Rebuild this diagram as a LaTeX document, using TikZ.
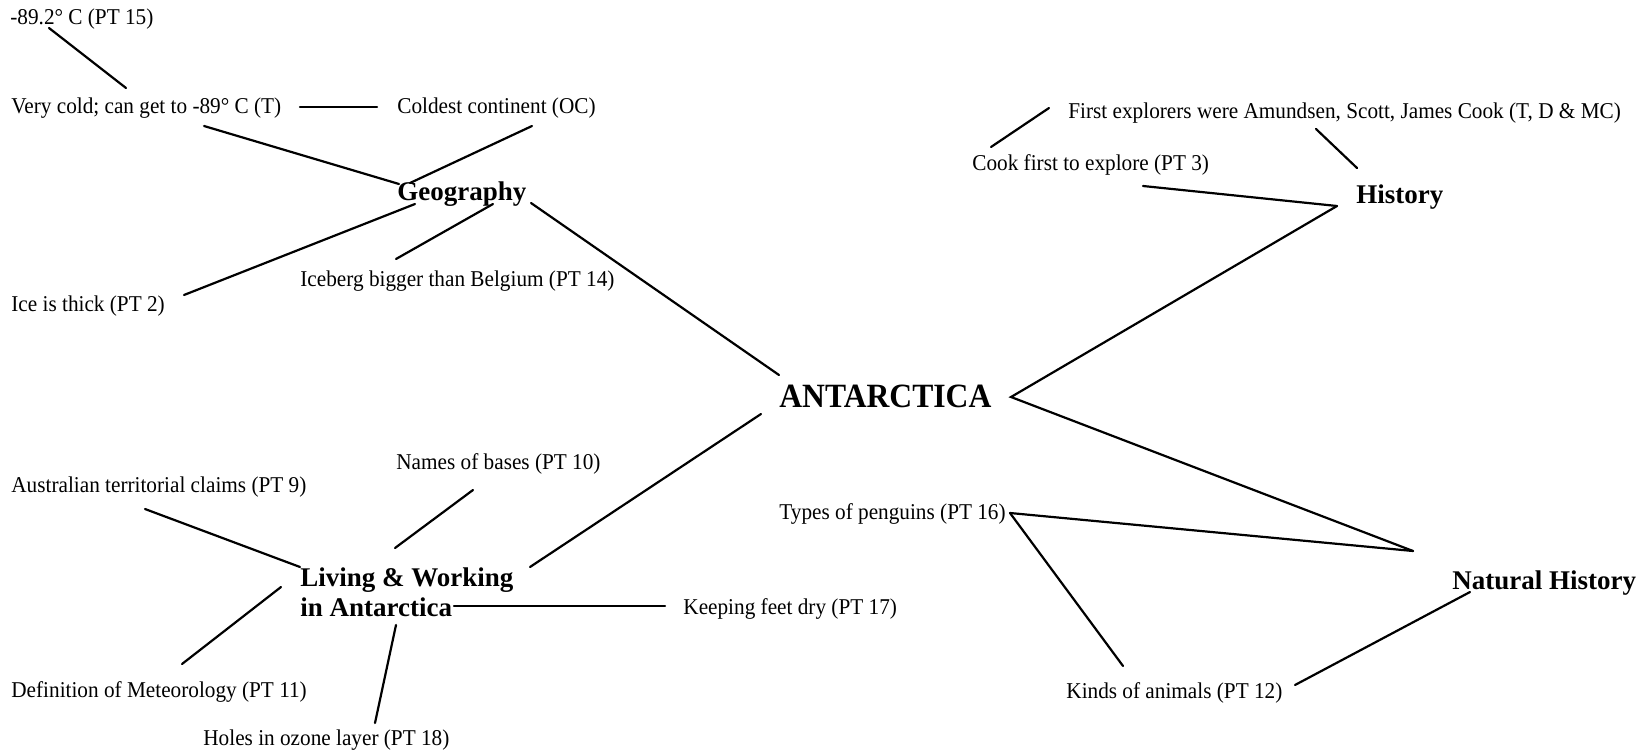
\documentclass[tikz,border=0pt]{standalone}
\usepackage{fontspec}
\setmainfont{Liberation Serif}
\newfontfamily\notefont{Liberation Serif}[FakeStretch=0.94]
\newfontfamily\titlefont{Liberation Serif}[FakeStretch=0.93]
\begin{document}
\begin{tikzpicture}[x=0.5pt,y=-0.5pt,
  note/.style={anchor=base west,inner sep=0pt,font=\notefont\fontsize{11.3}{13}\selectfont},
  topic/.style={anchor=base west,inner sep=0pt,font=\bfseries\fontsize{13.5}{15}\selectfont,align=left},
  hubtitle/.style={anchor=base west,inner sep=0pt,font=\titlefont\bfseries\fontsize{17}{19}\selectfont},
  link/.style={line width=1.1pt,line cap=round}]
\fill[white] (0,0) rectangle (1647,754);
\useasboundingbox (0,0) rectangle (1647,754);

% centre
\node[hubtitle] (ant) at (779,407) {ANTARCTICA};

% main topics (a two-line node sits on the baseline of its last line)
\node[topic] (geo) at (397,200) {Geography};
\node[topic] (hist) at (1356,204) {History};
\node[topic] (nat) at (1452,589) {Natural History};
\node[topic] (liv) at (300,616) {Living \& Working\\in Antarctica};

% Geography notes
\node[note] (t15) at (10,25) {-89.2° C (PT 15)};
\node[note] (vc) at (11,114) {Very cold; can get to -89° C (T)};
\node[note] (cc) at (397,114) {Coldest continent (OC)};
\node[note] (berg) at (300,286) {Iceberg bigger than Belgium (PT 14)};
\node[note] (ice) at (11,311) {Ice is thick (PT 2)};

% History notes
\node[note] (fe) at (1068,119) {First explorers were Amundsen, Scott, James Cook (T, D \& MC)};
\node[note] (cook) at (972,171) {Cook first to explore (PT 3)};

% Natural History notes
\node[note] (peng) at (779,519) {Types of penguins (PT 16)};
\node[note] (kinds) at (1066,698) {Kinds of animals (PT 12)};

% Living & Working notes
\node[note] (aus) at (11,492) {Australian territorial claims (PT 9)};
\node[note] (bases) at (396,469) {Names of bases (PT 10)};
\node[note] (feet) at (683,614) {Keeping feet dry (PT 17)};
\node[note] (defn) at (11,697) {Definition of Meteorology (PT 11)};
\node[note] (holes) at (203,745) {Holes in ozone layer (PT 18)};

% connector end points
\coordinate (t15-s) at (49,28);   \coordinate (vc-n) at (126,88);
\coordinate (vc-e) at (300,107);  \coordinate (cc-w) at (377,107);
\coordinate (vc-s) at (204,126);  \coordinate (geo-nw) at (399,184);
\coordinate (cc-s) at (532,126);  \coordinate (geo-n) at (410,183);
\coordinate (geo-sw) at (415,204); \coordinate (ice-e) at (184,295);
\coordinate (geo-s) at (493,204); \coordinate (berg-n) at (396,259);
\coordinate (geo-se) at (531,203); \coordinate (ant-nw) at (779,375);
\coordinate (ant-sw) at (761,414); \coordinate (liv-ne) at (530,567);
\coordinate (ant-e) at (1011,397);
\coordinate (hist-w) at (1337,206); \coordinate (nat-nw) at (1413,551);
\coordinate (cook-se) at (1143,186);
\coordinate (fe-s) at (1316,129); \coordinate (hist-n) at (1357,168);
\coordinate (fe-w) at (1049,108); \coordinate (cook-n) at (991,147);
\coordinate (peng-e) at (1010,513);
\coordinate (kinds-n) at (1123,666);
\coordinate (kinds-e) at (1295,685); \coordinate (nat-s) at (1470,592);
\coordinate (aus-s) at (145,509); \coordinate (liv-nw) at (300,567);
\coordinate (bases-s) at (473,490); \coordinate (liv-n) at (395,548);
\coordinate (liv-w) at (281,587); \coordinate (defn-n) at (182,664);
\coordinate (liv-e) at (454,606); \coordinate (feet-w) at (665,606);
\coordinate (liv-s) at (396,625); \coordinate (holes-n) at (375,723);

% connectors
\draw[link] (t15-s) -- (vc-n);
\draw[link] (vc-e) -- (cc-w);
\draw[link] (vc-s) -- (geo-nw);
\draw[link] (cc-s) -- (geo-n);
\draw[link] (geo-sw) -- (ice-e);
\draw[link] (geo-s) -- (berg-n);
\draw[link] (geo-se) -- (ant-nw);
\draw[link] (ant-sw) -- (liv-ne);
\draw[link] (hist-w) -- (ant-e) -- (nat-nw);
\draw[link] (cook-se) -- (hist-w);
\draw[link] (fe-s) -- (hist-n);
\draw[link] (fe-w) -- (cook-n);
\draw[link] (peng-e) -- (nat-nw);
\draw[link] (peng-e) -- (kinds-n);
\draw[link] (kinds-e) -- (nat-s);
\draw[link] (aus-s) -- (liv-nw);
\draw[link] (bases-s) -- (liv-n);
\draw[link] (liv-w) -- (defn-n);
\draw[link] (liv-e) -- (feet-w);
\draw[link] (liv-s) -- (holes-n);
\end{tikzpicture}
\end{document}
